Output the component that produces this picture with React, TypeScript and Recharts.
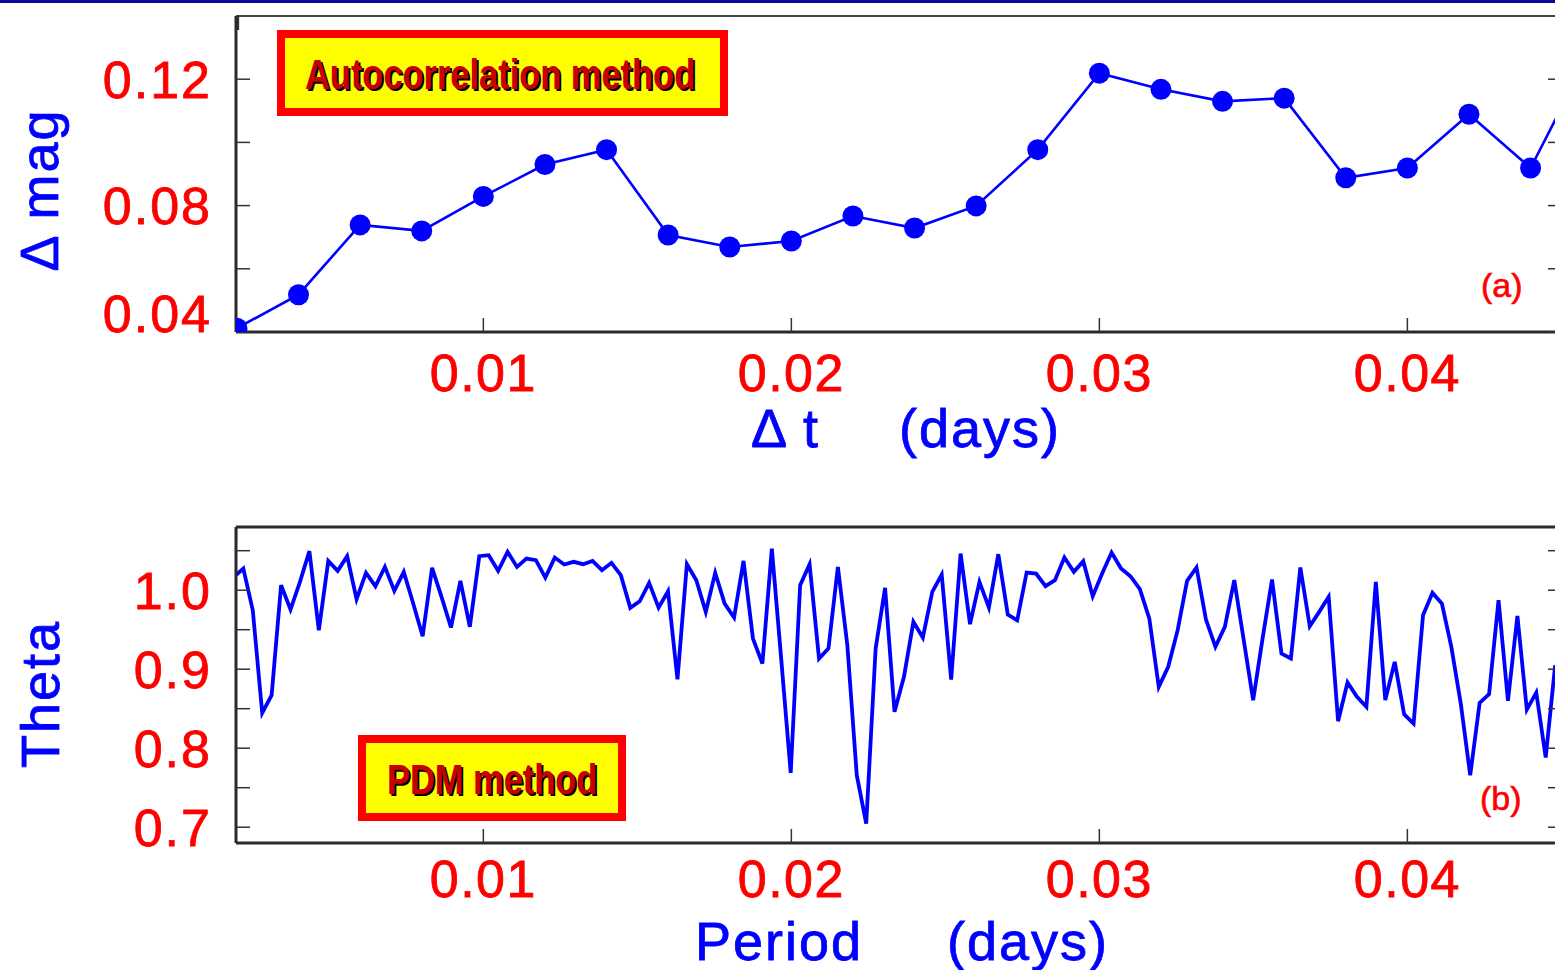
import React from 'react';
import { LineChart, Line, XAxis, YAxis, Label } from 'recharts';

// (a) autocorrelation: time lag (days) vs delta magnitude
const LAG_DAYS = [
  0.002, 0.004, 0.006, 0.008, 0.01, 0.012, 0.014, 0.016, 0.018, 0.02, 0.022, 0.024,
  0.026, 0.028, 0.03, 0.032, 0.034, 0.036, 0.038, 0.04, 0.042, 0.044, 0.046,
];
const DELTA_MAG = [
  0.0412, 0.0518, 0.0739, 0.072, 0.0829, 0.093, 0.0977, 0.0707, 0.0669, 0.0688, 0.0767, 0.0729,
  0.0799, 0.0977, 0.1219, 0.1168, 0.113, 0.114, 0.0888, 0.0919, 0.1089, 0.0919, 0.13,
];

// (b) PDM: theta statistic on an even trial-period grid
const PERIOD_START = 0.0019016;
const PERIOD_STEP = 0.0003064;
const THETA = [
  1.017,
  1.0274, 0.9747, 0.8447, 0.8671, 1.0063, 0.9755, 1.0105, 1.0494, 0.9494, 1.0371,
  1.0245, 1.043, 0.9886, 1.022, 1.005, 1.0295, 0.9991, 1.0232, 0.9831, 0.9418,
  1.0283, 0.9916, 0.9527, 1.0118, 0.9536, 1.043, 1.0443, 1.0245, 1.0485, 1.0295,
  1.04, 1.038, 1.016, 1.0413,
  1.0325, 1.0359, 1.0329, 1.0371, 1.0253, 1.0346, 1.019, 0.9776, 0.986, 1.0093,
  0.978, 0.9987, 0.8873, 1.0329, 1.0127, 0.9726, 1.022, 0.9831, 0.9654, 1.0371,
  0.9388, 0.9072, 1.0527, 0.912, 0.7688, 1.0063, 1.0329, 0.9135, 0.9262, 1.0295,
  0.9304, 0.7658, 0.7046, 0.9262,
  1.003, 0.846, 0.8903, 0.9599, 0.9401, 0.9979, 1.0198, 0.8869, 1.0464, 0.957,
  1.0105, 0.978, 1.0456, 0.9692, 0.962, 1.0224, 1.0211, 1.0051, 1.0127, 1.0413,
  1.0232, 1.0367, 0.9924, 1.0211, 1.0477, 1.0274, 1.0177, 1.0013, 0.9641, 0.8776,
  0.903, 0.9494, 1.0118, 1.0287,
  0.9629, 0.9283, 0.9536, 1.0127, 0.937, 0.8608, 0.939, 1.0135, 0.9198, 0.9135,
  1.0287, 0.9544, 0.9726, 0.9916, 0.8342, 0.8831, 0.865, 0.8523, 1.0105, 0.8608,
  0.9093, 0.843, 0.8312, 0.9683, 0.9966, 0.9831, 0.9283, 0.8565, 0.7658, 0.8574,
  0.8684, 0.9873, 0.8599, 0.9675, 0.8489, 0.8705, 0.7882, 0.905,
];

const X_TICKS = [0.01, 0.02, 0.03, 0.04];
const X_DOMAIN = [0.00197, 0.04502];
const MAG_TICKS = [0.04, 0.06, 0.08, 0.1, 0.12];
const MAG_LABELS = [0.04, 0.08, 0.12];
const THETA_TICKS = [0.7, 0.75, 0.8, 0.85, 0.9, 0.95, 1.0, 1.05];
const THETA_LABELS = [0.7, 0.8, 0.9, 1.0];

const lagRows = LAG_DAYS.map((lag, i) => ({ lag, dmag: DELTA_MAG[i] }));
const pdmRows = THETA.map((theta, i) => ({ period: PERIOD_START + PERIOD_STEP * i, theta }));

const RED = '#ff0000';
const BLUE = '#0000ff';
const FONT = '"Liberation Sans", Arial, Helvetica, sans-serif';
const axisLine = { stroke: '#2a2a2a', strokeWidth: 3 };
const topLine = { stroke: '#444', strokeWidth: 2 };
const tickLine = { stroke: '#333', strokeWidth: 1.5 };
const noLabel = () => <g />;

const XTick = ({ x, y, payload }: any) => (
  <text x={x} y={y} dy="0.72em" textAnchor="middle" fill={RED} stroke={RED} strokeWidth={0.8}
    fontSize={52} letterSpacing={1.5} fontFamily={FONT}>
    {payload.value.toFixed(2)}
  </text>
);

const MagTick = ({ x, y, payload }: any) => {
  if (!MAG_LABELS.includes(payload.value)) return <g />;
  // the bottom label sits above the frame corner
  const shift = payload.value === 0.04 ? -18 : 0;
  return (
    <text x={x} y={y + shift} dy="0.355em" textAnchor="end" fill={RED} stroke={RED} strokeWidth={0.8}
      fontSize={52} letterSpacing={2} fontFamily={FONT}>
      {payload.value.toFixed(2)}
    </text>
  );
};

const ThetaTick = ({ x, y, payload }: any) => {
  if (!THETA_LABELS.includes(payload.value)) return <g />;
  return (
    <text x={x} y={y} dy="0.355em" textAnchor="end" fill={RED} stroke={RED} strokeWidth={0.8}
      fontSize={52} letterSpacing={2} fontFamily={FONT}>
      {payload.value.toFixed(1)}
    </text>
  );
};

const title = { fill: BLUE, stroke: BLUE, strokeWidth: 0.8, fontSize: 54, fontFamily: FONT, letterSpacing: 2 };

function Tag({ x, y, w, h, text, tx, ty }: any) {
  return (
    <g>
      <rect x={x + 4} y={y + 4} width={w - 8} height={h - 8} fill="#ffff00" stroke={RED} strokeWidth={8} />
      <text transform={`translate(${tx + 2},${ty + 2}) scale(0.82,1)`} fontSize={42} fontWeight="bold"
        fontFamily={FONT} fill="#000">{text}</text>
      <text transform={`translate(${tx},${ty}) scale(0.82,1)`} fontSize={42} fontWeight="bold"
        fontFamily={FONT} fill="#c80000">{text}</text>
    </g>
  );
}

export default function App() {
  return (
    <div style={{ position: 'absolute', left: 0, top: 0, width: 1555, height: 970, overflow: 'hidden', background: '#fff' }}>
      <div style={{ position: 'absolute', left: 0, top: 0, width: 1555, height: 3, background: '#0a0a9a' }} />

      <div style={{ position: 'absolute', left: 0, top: 0 }}>
        <LineChart width={1600} height={470} data={lagRows} margin={{ top: 15, right: 37, bottom: 0, left: 0 }}>
          <XAxis dataKey="lag" type="number" domain={X_DOMAIN} allowDataOverflow ticks={X_TICKS} interval={0}
            height={138} tickSize={-14} tickMargin={36} axisLine={axisLine} tickLine={tickLine} tick={<XTick />}>
            <Label content={() => (
              <text y={447} {...title}>
                <tspan x={751}>Δ t</tspan>
                <tspan x={899}>(days)</tspan>
              </text>
            )} />
          </XAxis>
          <XAxis xAxisId="top" orientation="top" type="number" domain={X_DOMAIN} allowDataOverflow ticks={X_TICKS}
            interval={0} height={1} tickSize={-14} axisLine={topLine} tickLine={tickLine} tick={noLabel} />
          <YAxis type="number" domain={[0.04, 0.14]} allowDataOverflow ticks={MAG_TICKS} interval={0} width={236}
            tickSize={-14} tickMargin={38} axisLine={axisLine} tickLine={tickLine} tick={<MagTick />}>
            <Label content={() => (
              <text transform="translate(58,190) rotate(-90)" textAnchor="middle" {...title}>Δ mag</text>
            )} />
          </YAxis>
          <YAxis yAxisId="r" orientation="right" type="number" domain={[0.04, 0.14]} allowDataOverflow ticks={MAG_TICKS}
            interval={0} width={1} tickSize={-14} axisLine={false} tickLine={tickLine} tick={noLabel} />
          <Line dataKey="dmag" stroke={BLUE} strokeWidth={2.6} isAnimationActive={false}
            dot={{ r: 10.5, fill: BLUE, stroke: 'none' }} />
        </LineChart>
      </div>

      <div style={{ position: 'absolute', left: 0, top: 500 }}>
        <LineChart width={1600} height={470} data={pdmRows} margin={{ top: 26, right: 37, bottom: 0, left: 0 }}>
          <XAxis dataKey="period" type="number" domain={X_DOMAIN} allowDataOverflow ticks={X_TICKS} interval={0}
            height={127} tickSize={-14} tickMargin={31} axisLine={axisLine} tickLine={tickLine} tick={<XTick />}>
            <Label content={() => (
              <text y={460} {...title}>
                <tspan x={695}>Period</tspan>
                <tspan x={947}>(days)</tspan>
              </text>
            )} />
          </XAxis>
          <XAxis xAxisId="top" orientation="top" type="number" domain={X_DOMAIN} allowDataOverflow ticks={X_TICKS}
            interval={0} height={1} tickSize={-14} axisLine={axisLine} tickLine={tickLine} tick={noLabel} />
          <YAxis type="number" domain={[0.68, 1.08]} allowDataOverflow ticks={THETA_TICKS} interval={0} width={236}
            tickSize={-14} tickMargin={38} axisLine={axisLine} tickLine={tickLine} tick={<ThetaTick />}>
            <Label content={() => (
              <text transform="translate(59,194) rotate(-90)" textAnchor="middle" {...title}>Theta</text>
            )} />
          </YAxis>
          <YAxis yAxisId="r" orientation="right" type="number" domain={[0.68, 1.08]} allowDataOverflow ticks={THETA_TICKS}
            interval={0} width={1} tickSize={-14} axisLine={false} tickLine={tickLine} tick={noLabel} />
          <Line dataKey="theta" stroke={BLUE} strokeWidth={3.8} isAnimationActive={false} dot={false} />
        </LineChart>
      </div>

      <svg width={1555} height={970} style={{ position: 'absolute', left: 0, top: 0, pointerEvents: 'none' }}>
        <Tag x={277} y={30} w={451} h={86} text="Autocorrelation method" tx={305} ty={89} />
        <Tag x={358} y={735} w={268} h={86} text="PDM method" tx={387} ty={794} />
        <text x={1481} y={297} fill={RED} stroke={RED} strokeWidth={0.6} fontSize={34} fontFamily={FONT}>(a)</text>
        <text x={1480} y={810} fill={RED} stroke={RED} strokeWidth={0.6} fontSize={34} fontFamily={FONT}>(b)</text>
      </svg>
    </div>
  );
}
